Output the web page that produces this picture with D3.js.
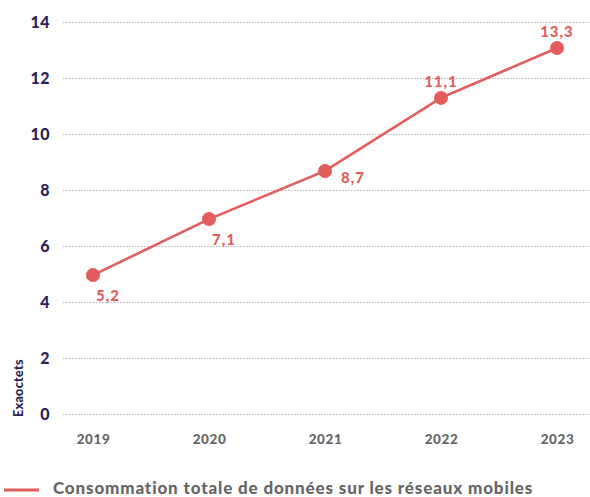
<!DOCTYPE html>
<html><head><meta charset="utf-8">
<script src="https://cdn.jsdelivr.net/npm/d3@7"></script>
<style>body{margin:0;background:#fff}svg{display:block}text{font-family:Lato,"Open Sans",sans-serif;font-weight:900}</style>
</head><body>
<svg id="c" width="590" height="497"></svg>
<script>
const years = ["2019","2020","2021","2022","2023"];
const values = [4.96, 6.96, 8.68, 11.29, 13.07];
const valueLabels = ["5,2","7,1","8,7","11,1","13,3"];
const yTicks = [0,2,4,6,8,10,12,14];
const seriesName = "Consommation totale de données sur les réseaux mobiles";
const yTitle = "Exaoctets";

const red = "#e35d5d", navy = "#2b2357", gray = "#666666";
const svg = d3.select("#c");
const x = d3.scalePoint().domain(years).range([93, 557]);
const y = d3.scaleLinear().domain([0,14]).range([414, 22]);

// grid
const gy = svg.append("g").attr("transform","translate(63,0)")
  .call(d3.axisLeft(y).tickValues(yTicks).tickSize(-527).tickFormat(d=>d));
gy.select(".domain").remove();
gy.selectAll(".tick line").attr("stroke","#b5b5b5").attr("stroke-width",1.2).attr("stroke-dasharray","1.5,1.5");
gy.selectAll(".tick text").attr("x",-13).attr("fill",navy).style("font-size","16px").style("letter-spacing","0.5px")
  .style("font-family","Lato,sans-serif").style("font-weight",900);

const gx = svg.append("g").attr("transform","translate(0,424)")
  .call(d3.axisBottom(x).tickSize(0));
gx.select(".domain").remove();
gx.selectAll(".tick text").attr("dy","0.71em").attr("y",10).attr("fill",gray).style("font-size","13.5px").style("letter-spacing","0.6px")
  .style("font-family","Lato,sans-serif").style("font-weight",900);

svg.append("text").attr("transform","translate(23,417) rotate(-90)")
  .attr("fill",navy).style("font-size","12.5px").style("letter-spacing","0.3px").text(yTitle);

const line = d3.line().x((d,i)=>x(years[i])).y(d=>y(d));
svg.append("path").datum(values).attr("d",line).attr("fill","none").attr("stroke",red).attr("stroke-width",2.6);
svg.selectAll("circle.pt").data(values).join("circle").attr("class","pt")
  .attr("cx",(d,i)=>x(years[i])).attr("cy",d=>y(d)).attr("r",7).attr("fill",red);

const place = ["below","below","right","above","above"];
svg.selectAll("text.lbl").data(values).join("text").attr("class","lbl")
  .attr("x",(d,i)=> place[i]==="above" ? x(years[i]) : place[i]==="right" ? x(years[i])+16 : x(years[i])+3)
  .attr("y",(d,i)=> place[i]==="above" ? y(d)-11 : place[i]==="right" ? y(d)+12 : y(d)+26)
  .attr("text-anchor",(d,i)=> place[i]==="above" ? "middle" : "start")
  .attr("fill",red).style("font-size","15px").style("letter-spacing","1px").text((d,i)=>valueLabels[i]);

svg.append("line").attr("x1",4).attr("x2",39).attr("y1",490).attr("y2",490).attr("stroke",red).attr("stroke-width",3);
svg.append("text").attr("x",53).attr("y",494).attr("fill",gray).style("font-size","17px").style("letter-spacing","0.85px").text(seriesName);
</script>
</body></html>
